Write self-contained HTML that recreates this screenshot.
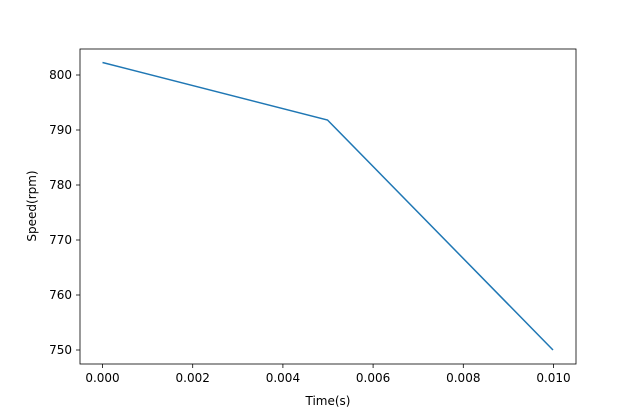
<!DOCTYPE html>
<html><head><style>body{margin:0;background:#fff}</style></head><body>
<svg width="640" height="409" xmlns="http://www.w3.org/2000/svg" font-family="DejaVu Sans, Liberation Sans, sans-serif" font-size="12">
<rect x="80" y="49" width="496" height="315" fill="#fff" stroke="#000" stroke-width="0.8"/>
<polyline points="102.5,62.5 327.5,120 553,350" fill="none" stroke="#1f77b4" stroke-width="1.5"/>
<g stroke="#000" stroke-width="0.8">
<line x1="102.5" y1="364" x2="102.5" y2="368"/>
<line x1="192.7" y1="364" x2="192.7" y2="368"/>
<line x1="282.9" y1="364" x2="282.9" y2="368"/>
<line x1="373.1" y1="364" x2="373.1" y2="368"/>
<line x1="463.3" y1="364" x2="463.3" y2="368"/>
<line x1="553.5" y1="364" x2="553.5" y2="368"/>
<line x1="76" y1="75" x2="80" y2="75"/>
<line x1="76" y1="130" x2="80" y2="130"/>
<line x1="76" y1="185" x2="80" y2="185"/>
<line x1="76" y1="240" x2="80" y2="240"/>
<line x1="76" y1="295" x2="80" y2="295"/>
<line x1="76" y1="350" x2="80" y2="350"/>
</g>
<g text-anchor="middle">
<text x="102.5" y="382">0.000</text>
<text x="192.7" y="382">0.002</text>
<text x="282.9" y="382">0.004</text>
<text x="373.1" y="382">0.006</text>
<text x="463.3" y="382">0.008</text>
<text x="553.5" y="382">0.010</text>
<text x="328" y="405">Time(s)</text>
</g>
<g text-anchor="end">
<text x="72" y="79">800</text>
<text x="72" y="134">790</text>
<text x="72" y="189">780</text>
<text x="72" y="244">770</text>
<text x="72" y="299">760</text>
<text x="72" y="354">750</text>
</g>
<text transform="translate(36,206) rotate(-90)" text-anchor="middle">Speed(rpm)</text>
</svg>
</body></html>
